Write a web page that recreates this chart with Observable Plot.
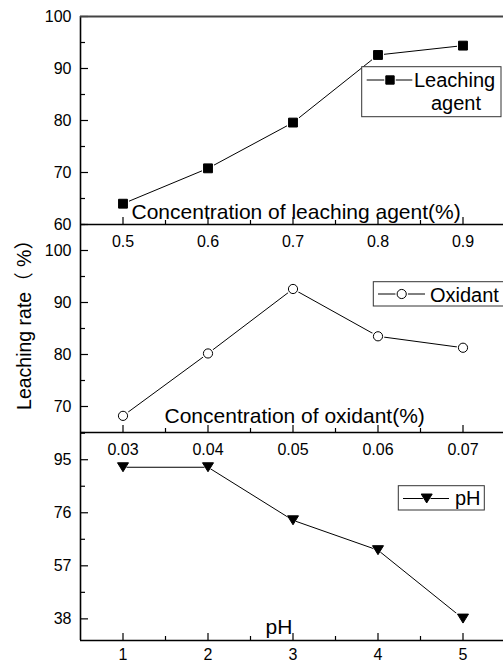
<!DOCTYPE html>
<html><head><meta charset="utf-8">
<script src="https://cdn.jsdelivr.net/npm/d3@7"></script>
<script src="https://cdn.jsdelivr.net/npm/@observablehq/plot@0.6"></script>
<style>
html,body{margin:0;padding:0;background:#fff;overflow:hidden;}
#wrap{position:relative;width:503px;height:664px;overflow:hidden;font-family:"Liberation Sans",Arial,sans-serif;}
.panel{position:absolute;left:0;}
#overlay{position:absolute;left:0;top:0;}
</style></head><body><div id="wrap"></div>
<script>
// ---- data ----
const agentConc = [0.5, 0.6, 0.7, 0.8, 0.9];
const agentRate = [64.0, 70.8, 79.6, 92.6, 94.4];
const oxidantConc = [0.03, 0.04, 0.05, 0.06, 0.07];
const oxidantRate = [68.2, 80.2, 92.6, 83.5, 81.3];
const phValues = [1, 2, 3, 4, 5];
const phRate = [92.3, 92.3, 73.3, 62.6, 38.1];

const yTicks1 = [60, 70, 80, 90, 100];
const yMinor1 = [65, 75, 85, 95];
const yTicks2 = [70, 80, 90, 100];
const yMinor2 = [65, 75, 85, 95, 105];
const yTicks3 = [38, 57, 76, 95];
const yMinor3 = [47.5, 66.5, 85.5, 104.5];
const xTickLabels1 = ["0.5", "0.6", "0.7", "0.8", "0.9"];
const xTickLabels2 = ["0.03", "0.04", "0.05", "0.06", "0.07"];
const xTickLabels3 = ["1", "2", "3", "4", "5"];
const xMinor1 = [0.55, 0.65, 0.75, 0.85];
const xMinor2 = [0.035, 0.045, 0.055, 0.065];
const xMinor3 = [1.5, 2.5, 3.5, 4.5];
const xTitles = ["Concentration of leaching agent(%)", "Concentration of oxidant(%)", "pH"];
const legendLabels = [["Leaching", "agent"], ["Oxidant"], ["pH"]];
const yTitle = "Leaching rate（ %）";

// ---- layout ----
const W = 505, ML = 80, MT = 10, MB = 30, PH = 208, PW = W - ML;
const FONT = '"Liberation Sans", Arial, "Noto Sans CJK SC", sans-serif';

const triangleDown = {
  draw(ctx, size) {
    const s = Math.sqrt(size), w = s * 1.13, h = s * 0.92;
    ctx.moveTo(-w / 2, -h / 2); ctx.lineTo(w / 2, -h / 2); ctx.lineTo(0, h / 2); ctx.closePath();
  }
};

const wrap = document.getElementById("wrap");

function panel(o) {
  const data = o.xs.map((x, i) => ({x, y: o.ys[i]}));
  const marks = [
    Plot.tickY(o.yMinor, {y: d => d, insetRight: PW - 5, stroke: "#000", strokeWidth: 1.2}),
    Plot.tickY(o.yMajor, {y: d => d, insetRight: PW - 8, stroke: "#000", strokeWidth: 1.2}),
    Plot.tickX(o.xMinor, {x: d => d, insetTop: PH - 4, stroke: "#000", strokeWidth: 1.2}),
    Plot.tickX(o.xMajor, {x: d => d, insetTop: PH - 7, stroke: "#000", strokeWidth: 1.2}),
    Plot.ruleX([o.xDomain[0]], {stroke: "#000", strokeWidth: 1.6}),
    Plot.ruleY([o.yDomain[0]], {stroke: "#000", strokeWidth: 1.6}),
    Plot.axisY({ticks: o.yMajor, tickSize: 0, tickPadding: 9, fontSize: 16, tickFormat: d => String(d)}),
    Plot.axisX({ticks: o.xMajor, tickSize: 0, tickPadding: o.xPad, fontSize: 16,
      tickFormat: d => o.xLabels[o.xMajor.indexOf(d)]}),
    Plot.text([o.title], {text: d => d, frameAnchor: "bottom-left", textAnchor: "start", lineAnchor: "bottom",
      dx: o.titleDx, dy: o.titleDy, fontSize: 21, fill: "#000"}),
    Plot.line(data, {x: "x", y: "y", stroke: "#000", strokeWidth: 1}),
    Plot.dot(data, {x: "x", y: "y", symbol: o.symbol, r: o.r + 1.8, fill: "#fff", stroke: "none"}),
    Plot.dot(data, {x: "x", y: "y", symbol: o.symbol, r: o.r, fill: o.fill, stroke: "#000", strokeWidth: 1})
  ];
  if (o.topRule) marks.push(Plot.ruleY([o.yDomain[1]], {stroke: "#444", strokeWidth: 2}));
  if (o.extra) marks.push(...o.extra);
  const svg = Plot.plot({
    width: W, height: MT + PH + MB,
    marginLeft: ML, marginRight: 0, marginTop: MT, marginBottom: MB,
    x: {domain: o.xDomain, label: null},
    y: {domain: o.yDomain, label: null},
    style: {background: "transparent", maxWidth: "none", overflow: "visible", fontFamily: FONT, fontSize: "16px", color: "#000"},
    marks
  });
  svg.classList.add("panel");
  svg.style.position = "absolute";
  svg.style.left = "0px";
  svg.style.top = (o.top - MT) + "px";
  wrap.appendChild(svg);
}

panel({top: 15.5, xDomain: [0.45, 0.95], yDomain: [60, 100], xs: agentConc, ys: agentRate,
  xMajor: agentConc, xMinor: xMinor1, xLabels: xTickLabels1, yMajor: yTicks1, yMinor: yMinor1, xPad: 11.5,
  symbol: "square", r: 5, fill: "#000", title: xTitles[0], titleDx: 51, titleDy: -5.5, topRule: true});

panel({top: 223.5, xDomain: [0.025, 0.075], yDomain: [65, 105], xs: oxidantConc, ys: oxidantRate,
  xMajor: oxidantConc, xMinor: xMinor2, xLabels: xTickLabels2, yMajor: yTicks2, yMinor: yMinor2, xPad: 11.5,
  symbol: "circle", r: 4.6, fill: "#fff", title: xTitles[1], titleDx: 84, titleDy: -10,
  extra: [Plot.text([yTitle], {text: d => d, frameAnchor: "left", dx: -56, dy: -8.5, rotate: -90,
    textAnchor: "middle", lineAnchor: "middle", fontSize: 19.5, fill: "#000"})]});

panel({top: 431.5, xDomain: [0.5, 5.5], yDomain: [30.25, 104.75], xs: phValues, ys: phRate,
  xMajor: phValues, xMinor: xMinor3, xLabels: xTickLabels3, yMajor: yTicks3, yMinor: yMinor3, xPad: 8.5,
  symbol: triangleDown, r: 5.5, fill: "#000", title: xTitles[2], titleDx: 185, titleDy: -6.5});

// ---- legends ----
const legends = [
  {box: [361.7, 66.7, 139.3, 50], line: [366.7, 412.3, 80], symX: 390, sym: d3.symbolSquare, size: 70, fill: "#000",
   texts: [[414, 87], [431, 110]], labels: legendLabels[0]},
  {box: [373.3, 281.7, 140, 24.3], line: [378, 425, 294], symX: 401.7, sym: d3.symbolCircle, size: 66, fill: "#fff",
   texts: [[430, 301.5]], labels: legendLabels[1]},
  {box: [398.3, 485.7, 86, 24.3], line: [403, 449, 498.5], symX: 426.7, sym: triangleDown, size: 95, fill: "#000",
   texts: [[455, 505]], labels: legendLabels[2]}
];
const ov = d3.select(wrap).append("svg").attr("id", "overlay").attr("width", 503).attr("height", 664)
  .style("font-family", FONT);
for (const L of legends) {
  const g = ov.append("g");
  g.append("rect").attr("x", L.box[0]).attr("y", L.box[1]).attr("width", L.box[2]).attr("height", L.box[3])
    .attr("fill", "#fff").attr("stroke", "#333").attr("stroke-width", 1);
  g.append("line").attr("x1", L.line[0]).attr("x2", L.line[1]).attr("y1", L.line[2]).attr("y2", L.line[2])
    .attr("stroke", "#000").attr("stroke-width", 1);
  g.append("path").attr("transform", `translate(${L.symX},${L.line[2]})`)
    .attr("d", d3.symbol(L.sym, L.size * 1.9)()).attr("fill", "#fff");
  g.append("path").attr("transform", `translate(${L.symX},${L.line[2]})`)
    .attr("d", d3.symbol(L.sym, L.size)()).attr("fill", L.fill).attr("stroke", "#000").attr("stroke-width", 1);
  L.labels.forEach((t, i) => {
    g.append("text").attr("x", L.texts[i][0]).attr("y", L.texts[i][1]).attr("font-size", 20).attr("fill", "#000").text(t);
  });
}
</script></body></html>
